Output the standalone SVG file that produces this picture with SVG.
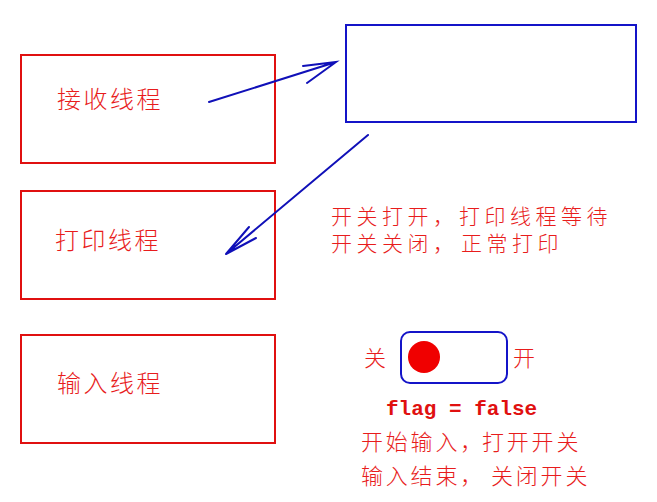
<svg xmlns="http://www.w3.org/2000/svg" width="657" height="502" viewBox="0 0 657 502">
<style>
.box{fill:none;stroke:#e01010;stroke-width:2}
.blue{fill:none;stroke:#1414c8;stroke-width:2}
.arr{fill:none;stroke:#1010b8;stroke-width:2;stroke-linecap:round}
.t{font-family:"Noto Sans CJK SC","Noto Sans",sans-serif;font-size:22px;fill:#e81c1c;font-weight:300}
.n{font-size:24px;letter-spacing:2.5px}
.s{font-size:21px;letter-spacing:4.5px}
.b{letter-spacing:2.8px}
.m{font-family:"Liberation Mono",monospace;font-weight:bold;font-size:21px;fill:#e01010}
</style>
<rect width="657" height="502" fill="#ffffff"/>
<g id="recv">
<rect class="box" x="21" y="55" width="254" height="108"/>
<text class="t n" x="57" y="108">接收线程</text>
</g>
<g id="print">
<rect class="box" x="21" y="191" width="254" height="108"/>
<text class="t n" x="55" y="249">打印线程</text>
</g>
<g id="input">
<rect class="box" x="21" y="335" width="254" height="108"/>
<text class="t n" x="57" y="392">输入线程</text>
</g>
<g id="buffer">
<rect class="blue" x="346" y="25" width="290" height="97"/>
</g>
<g id="connectors">
<path class="arr" d="M209,102 L336,62 M303,66 L336,62 L307,83"/>
<path class="arr" d="M368,135 L226,254 M249,227 L226,254 L256,238"/>
</g>
<g id="note">
<text class="t s" x="331" y="224">开关打开，<tspan x="459">打印线程等待</tspan></text>
<text class="t s" x="331" y="251">开关关闭，<tspan x="461">正常打印</tspan></text>
</g>
<g id="switch">
<text class="t" x="364" y="366">关</text>
<rect class="blue" x="401" y="332" width="106" height="51" rx="9"/>
<circle cx="424" cy="357" r="16" fill="#f00000"/>
<text class="t" x="513" y="366">开</text>
<text class="m" x="386" y="415">flag = false</text>
<text class="t b" x="361" y="450">开始输入，<tspan x="482">打开开关</tspan></text>
<text class="t b" x="361" y="484">输入结束，<tspan x="491">关闭开关</tspan></text>
</g>
</svg>
